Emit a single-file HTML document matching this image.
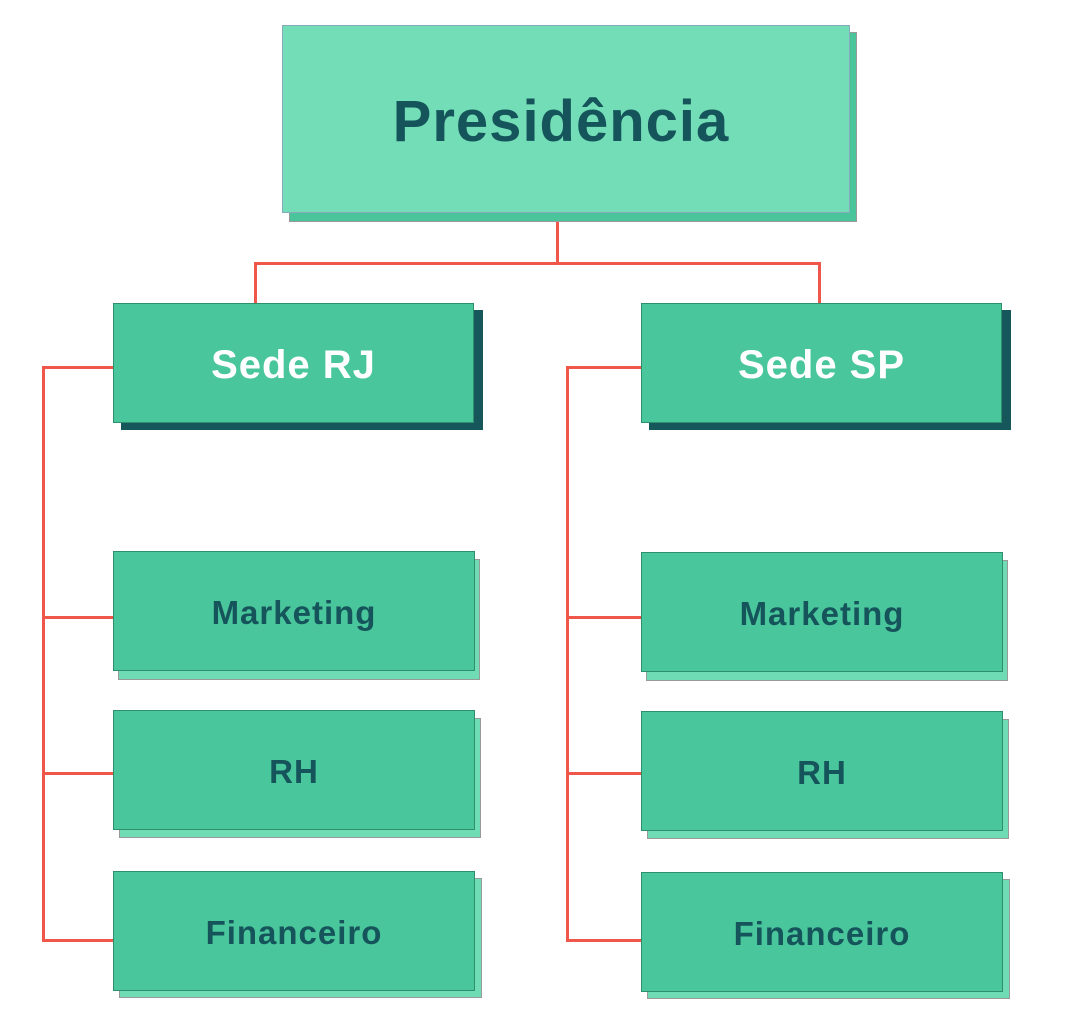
<!DOCTYPE html>
<html><head><meta charset="utf-8"><style>
body{margin:0;width:1067px;height:1019px;background:#fff;position:relative;overflow:hidden;font-family:"Liberation Sans",sans-serif;font-weight:bold}
.b{position:absolute;box-sizing:border-box;display:flex;align-items:center;justify-content:center;border:1px solid #2e8f6d;padding-top:4px}
.s{position:absolute;box-sizing:border-box;border:1px solid #999}
.l{position:absolute;background:#f0574b}
.d{color:#15545a;font-size:33px;letter-spacing:1px}
</style></head><body>
<div class="s" style="left:289px;top:32px;width:568px;height:190px;background:#4ac59b"></div>
<div class="b" style="left:282px;top:25px;width:568px;height:188px;background:#72ddb6;color:#15545a;font-size:58px;letter-spacing:1px;border-color:#8ab;padding-right:10px">Presidência</div>
<div class="l" style="left:556px;top:222px;width:3px;height:42px"></div>
<div class="l" style="left:254px;top:262px;width:567px;height:3px"></div>
<div class="l" style="left:254px;top:262px;width:3px;height:42px"></div>
<div class="l" style="left:818px;top:262px;width:3px;height:42px"></div>

<div class="s" style="left:121px;top:310px;width:362px;height:120px;background:#15575a;border-color:#15575a"></div>
<div class="b" style="left:113px;top:303px;width:361px;height:120px;background:#4ac69c;color:#fff;font-size:40px;letter-spacing:1px">Sede RJ</div>
<div class="s" style="left:649px;top:310px;width:362px;height:120px;background:#15575a;border-color:#15575a"></div>
<div class="b" style="left:641px;top:303px;width:361px;height:120px;background:#4ac69c;color:#fff;font-size:40px;letter-spacing:1px">Sede SP</div>

<div class="l" style="left:42px;top:366px;width:3px;height:576px"></div>
<div class="l" style="left:42px;top:366px;width:71px;height:3px"></div>
<div class="l" style="left:42px;top:616px;width:71px;height:3px"></div>
<div class="l" style="left:42px;top:772px;width:71px;height:3px"></div>
<div class="l" style="left:42px;top:939px;width:71px;height:3px"></div>
<div class="l" style="left:566px;top:366px;width:3px;height:576px"></div>
<div class="l" style="left:566px;top:366px;width:75px;height:3px"></div>
<div class="l" style="left:566px;top:616px;width:75px;height:3px"></div>
<div class="l" style="left:566px;top:772px;width:75px;height:3px"></div>
<div class="l" style="left:566px;top:939px;width:75px;height:3px"></div>

<div class="s" style="left:118px;top:559px;width:362px;height:121px;background:#6fdcb5"></div>
<div class="b d" style="left:113px;top:551px;width:362px;height:120px;background:#4ac69c">Marketing</div>
<div class="s" style="left:119px;top:718px;width:362px;height:120px;background:#6fdcb5"></div>
<div class="b d" style="left:113px;top:710px;width:362px;height:120px;background:#4ac69c">RH</div>
<div class="s" style="left:119px;top:878px;width:363px;height:120px;background:#6fdcb5"></div>
<div class="b d" style="left:113px;top:871px;width:362px;height:120px;background:#4ac69c">Financeiro</div>

<div class="s" style="left:646px;top:560px;width:362px;height:121px;background:#6fdcb5"></div>
<div class="b d" style="left:641px;top:552px;width:362px;height:120px;background:#4ac69c">Marketing</div>
<div class="s" style="left:647px;top:719px;width:362px;height:120px;background:#6fdcb5"></div>
<div class="b d" style="left:641px;top:711px;width:362px;height:120px;background:#4ac69c">RH</div>
<div class="s" style="left:647px;top:879px;width:363px;height:120px;background:#6fdcb5"></div>
<div class="b d" style="left:641px;top:872px;width:362px;height:120px;background:#4ac69c">Financeiro</div>
</body></html>
